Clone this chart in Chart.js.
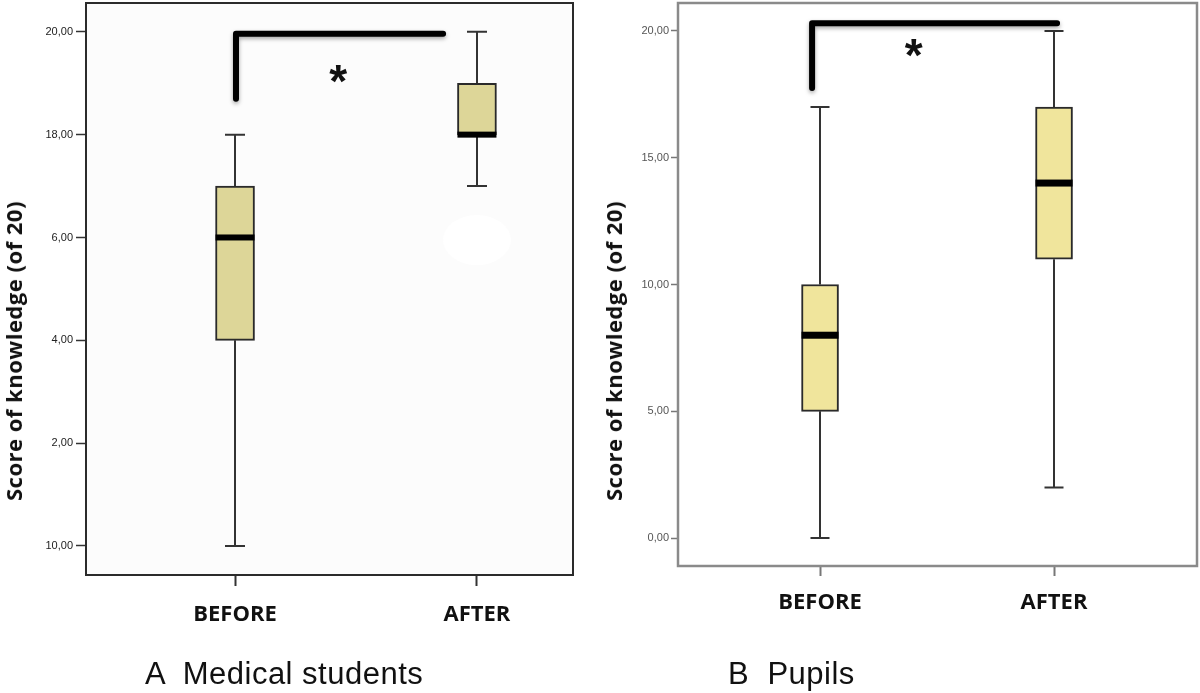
<!DOCTYPE html>
<html><head><meta charset="utf-8">
<script src="https://cdn.jsdelivr.net/npm/chart.js@4.4.1/dist/chart.umd.min.js"></script>
<style>
html,body{margin:0;padding:0;background:#fff;}
#wrap{position:relative;width:1200px;height:693px;overflow:hidden;background:#fff;}
canvas{position:absolute;top:0;}
#cA{left:0;} #cB{left:580px;}
.ytitle{position:absolute;font-family:"Open Sans",sans-serif;font-weight:700;font-size:22px;letter-spacing:0.5px;color:#111;white-space:nowrap;line-height:26px;transform:translate(-50%,-50%) rotate(-90deg);}
.cap{position:absolute;font-family:"Liberation Sans",Arial,sans-serif;font-size:31px;line-height:31px;color:#111;white-space:pre;letter-spacing:0.5px;}
</style></head>
<body>
<div id="wrap">
<canvas id="cA" width="580" height="693"></canvas>
<canvas id="cB" width="620" height="693"></canvas>
<div class="ytitle" style="left:13px;top:351px;">Score of knowledge (of 20)</div>
<div class="ytitle" style="left:613px;top:351px;">Score of knowledge (of 20)</div>
<div class="cap" style="left:145px;top:658px;">A  Medical students</div>
<div class="cap" style="left:728px;top:658px;">B  Pupils</div>
</div>
<script>
// ---- data ----
const categories = ['BEFORE', 'AFTER'];

// Panel A: medical students
const yTicksA = [10, 12, 14, 16, 18, 20];
const yTickLabelsA = ['10,00', '2,00', '4,00', '6,00', '18,00', '20,00'];
const minA = [10, 17];
const q1A = [14, 18];
const medianA = [16, 18];
const q3A = [17, 19];
const maxA = [18, 20];

// Panel B: pupils
const yTicksB = [0, 5, 10, 15, 20];
const yTickLabelsB = ['0,00', '5,00', '10,00', '15,00', '20,00'];
const minB = [0, 2];
const q1B = [5, 11];
const medianB = [8, 14];
const q3B = [10, 17];
const maxB = [17, 20];

// ---- drawing helpers ----
const boxPlugin = {
  id: 'boxExtras',
  beforeDatasetsDraw(chart, args, o) {
    const {ctx, chartArea: a, scales: {x, y}} = chart;
    ctx.save();
    if (o.bg) { ctx.fillStyle = o.bg; ctx.fillRect(a.left, a.top, a.width, a.height); }
    if (o.blob) {
      ctx.fillStyle = '#ffffff';
      ctx.beginPath();
      ctx.ellipse(x.getPixelForValue(o.blob.x), y.getPixelForValue(o.blob.y), o.blob.rx, o.blob.ry, 0, 0, Math.PI * 2);
      ctx.fill();
    }
    // whiskers
    ctx.strokeStyle = o.whiskerColor;
    ctx.lineWidth = o.whiskerWidth;
    o.stats.min.forEach((mn, i) => {
      const xc = Math.round(x.getPixelForValue(i));
      const yMin = y.getPixelForValue(mn), yMax = y.getPixelForValue(o.stats.max[i]);
      const yQ1 = y.getPixelForValue(o.stats.q1[i]), yQ3 = y.getPixelForValue(o.stats.q3[i]);
      ctx.beginPath();
      ctx.moveTo(xc, yMin); ctx.lineTo(xc, yQ1);
      ctx.moveTo(xc, yQ3); ctx.lineTo(xc, yMax);
      ctx.moveTo(xc - o.capW / 2, yMin); ctx.lineTo(xc + o.capW / 2, yMin);
      ctx.moveTo(xc - o.capW / 2, yMax); ctx.lineTo(xc + o.capW / 2, yMax);
      ctx.stroke();
    });
    ctx.restore();
  },
  afterDatasetsDraw(chart, args, o) {
    const {ctx, chartArea: a, scales: {x, y}} = chart;
    ctx.save();
    // medians
    ctx.fillStyle = '#000';
    o.stats.median.forEach((m, i) => {
      const xc = x.getPixelForValue(i);
      const ym = y.getPixelForValue(m);
      ctx.fillRect(xc - o.boxW / 2, ym - o.medH / 2, o.boxW, o.medH);
    });
    // frame
    ctx.strokeStyle = o.frameColor;
    ctx.lineWidth = o.frameWidth;
    ctx.strokeRect(a.left, a.top, a.width, a.height);
    // significance bracket
    const b = o.bracket;
    ctx.save();
    ctx.shadowColor = 'rgba(0,0,0,0.35)';
    ctx.shadowBlur = 4;
    ctx.shadowOffsetY = 2;
    ctx.strokeStyle = '#000';
    ctx.lineWidth = 6;
    ctx.lineJoin = 'round';
    ctx.lineCap = 'round';
    ctx.beginPath();
    ctx.moveTo(x.getPixelForValue(b.x0), y.getPixelForValue(b.yBottom));
    ctx.lineTo(x.getPixelForValue(b.x0), y.getPixelForValue(b.yTop));
    ctx.lineTo(x.getPixelForValue(b.x1), y.getPixelForValue(b.yTop));
    ctx.stroke();
    ctx.restore();
    // asterisk
    ctx.fillStyle = '#111';
    ctx.font = 'bold 46px "Liberation Sans", Arial, sans-serif';
    ctx.textAlign = 'center';
    ctx.textBaseline = 'alphabetic';
    const m = ctx.measureText('*');
    const ax = x.getPixelForValue(o.star.x), ay = y.getPixelForValue(o.star.y);
    ctx.fillText('*', ax, ay + (m.actualBoundingBoxAscent - m.actualBoundingBoxDescent) / 2);
    ctx.restore();
  }
};

function makeChart(id, c) {
  const data = categories.map((cat, i) => ({x: i, y: [c.q1[i], c.q3[i]]}));
  return new Chart(document.getElementById(id), {
    type: 'bar',
    data: {datasets: [{data, backgroundColor: c.fill, borderColor: c.edge, borderWidth: 2, borderSkipped: false, barThickness: c.boxW}]},
    options: {
      responsive: false, animation: false,
      layout: {padding: c.pad},
      plugins: {
        legend: {display: false}, tooltip: {enabled: false},
        boxExtras: {
          stats: {min: c.min, q1: c.q1, median: c.median, q3: c.q3, max: c.max},
          bg: c.bg, blob: c.blob, whiskerColor: c.whiskerColor, whiskerWidth: 2, capW: c.capW,
          boxW: c.boxW, medH: c.medH, frameColor: c.frameColor, frameWidth: c.frameWidth,
          bracket: c.bracket, star: c.star
        }
      },
      scales: {
        x: {
          type: 'linear', min: c.xmin, max: c.xmax, offset: false,
          afterBuildTicks: s => { s.ticks = categories.map((cat, i) => ({value: i})); },
          afterFit: s => { s.height = c.xH; s.paddingLeft = 0; s.paddingRight = 0; },
          ticks: {callback: v => categories[v], autoSkip: false, maxRotation: 0, padding: c.xPad,
            font: {family: '"Open Sans", sans-serif', weight: 'bold', size: 22}, color: '#111'},
          grid: {drawOnChartArea: false, offset: false, tickLength: c.xTickLen, tickColor: c.axisColor, tickWidth: 2},
          border: {display: false}
        },
        y: {
          min: c.ymin, max: c.ymax,
          afterBuildTicks: s => { s.ticks = c.yTicks.map(v => ({value: v})); },
          afterFit: s => { s.width = c.yW; s.paddingTop = 0; s.paddingBottom = 0; },
          ticks: {callback: v => c.yLabels[c.yTicks.indexOf(v)], autoSkip: false, padding: c.yPad,
            font: c.yFont, color: c.yColor},
          grid: {drawOnChartArea: false, tickLength: c.yTickLen, tickColor: c.axisColor, tickWidth: 1.5},
          border: {display: false}
        }
      }
    },
    plugins: [boxPlugin]
  });
}

makeChart('cA', {
  min: minA, q1: q1A, median: medianA, q3: q3A, max: maxA,
  yTicks: yTicksA, yLabels: yTickLabelsA, ymin: 9.436, ymax: 20.56,
  xmin: -0.616, xmax: 1.397,
  pad: {left: 0, top: 3, right: 7, bottom: 0}, yW: 86, xH: 118,
  xPad: 16, xTickLen: 11, yPad: 3, yTickLen: 10,
  yFont: {family: '"Liberation Sans Narrow", "Liberation Sans", sans-serif', size: 11},
  yColor: '#222', axisColor: '#333',
  fill: '#ddd698', edge: '#2a2a2a', boxW: 39, capW: 20, medH: 6,
  whiskerColor: '#333', frameColor: '#2b2b2b', frameWidth: 2, bg: '#fcfcfc',
  blob: {x: 1, y: 15.95, rx: 34, ry: 25},
  bracket: {x0: 0.004, x1: 0.86, yTop: 19.96, yBottom: 18.7},
  star: {x: 0.426, y: 19.17}
});

makeChart('cB', {
  min: minB, q1: q1B, median: medianB, q3: q3B, max: maxB,
  yTicks: yTicksB, yLabels: yTickLabelsB, ymin: -1.1, ymax: 21.1,
  xmin: -0.607, xmax: 1.611,
  pad: {left: 0, top: 3, right: 3, bottom: 0}, yW: 98, xH: 127,
  xPad: 14, xTickLen: 10, yPad: 2, yTickLen: 7,
  yFont: {family: '"Liberation Sans", Arial, sans-serif', size: 11},
  yColor: '#555', axisColor: '#777',
  fill: '#f0e59c', edge: '#2a2a2a', boxW: 37, capW: 19, medH: 7,
  whiskerColor: '#333', frameColor: '#8a8a8a', frameWidth: 2.5, bg: null, blob: null,
  bracket: {x0: -0.034, x1: 1.013, yTop: 20.3, yBottom: 17.75},
  star: {x: 0.40, y: 19.31}
});
</script>
</body></html>
